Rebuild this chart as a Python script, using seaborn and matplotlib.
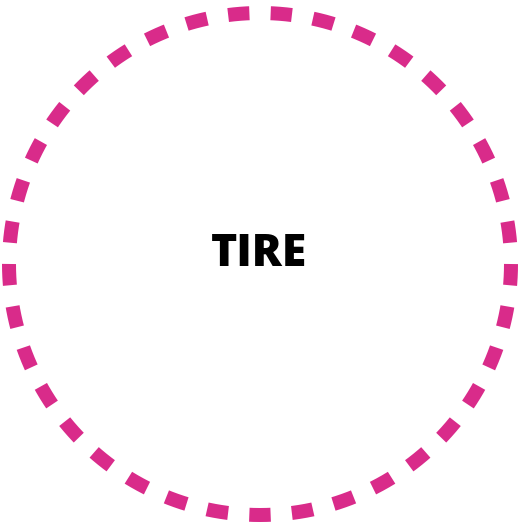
import numpy as np
import pandas as pd
import matplotlib
matplotlib.use("Agg")
import matplotlib.pyplot as plt
import seaborn as sns

# Data
label = ["TIRE"]
center = [260.0, 264.0]
radius = [251.0]
n_dashes = [37]

sns.set_theme(style="white")
plt.rcParams['font.family'] = ['Open Sans', 'DejaVu Sans']

W, H = 518, 524
fig = plt.figure(figsize=(W / 100, H / 100), dpi=100)
ax = fig.add_axes([0, 0, 1, 1])

t = np.linspace(0, 2 * np.pi, 721)
df = pd.DataFrame({
    "x": center[0] + radius[0] * np.sin(t),
    "y": center[1] - radius[0] * np.cos(t),
})

lw_px = 14.0
lw_pt = lw_px * 72 / 100
circ = 2 * np.pi * radius[0]
period = circ / n_dashes[0]
on = period * 0.5 / lw_px
off = period * 0.5 / lw_px
offset = on + off / 2

sns.lineplot(data=df, x="x", y="y", sort=False, estimator=None, ax=ax,
             color="#d92b8a", linewidth=lw_pt,
             linestyle=(offset, (on, off)))
for ln in ax.lines:
    ln.set_dash_capstyle("butt")

ax.text(center[0] - 1, 254, label[0], ha="center", va="center",
        fontsize=32, fontweight=800, color="black")

ax.set_xlim(0, W)
ax.set_ylim(H, 0)
ax.set_aspect("equal")
ax.axis("off")
fig.savefig("out.png", dpi=100)
